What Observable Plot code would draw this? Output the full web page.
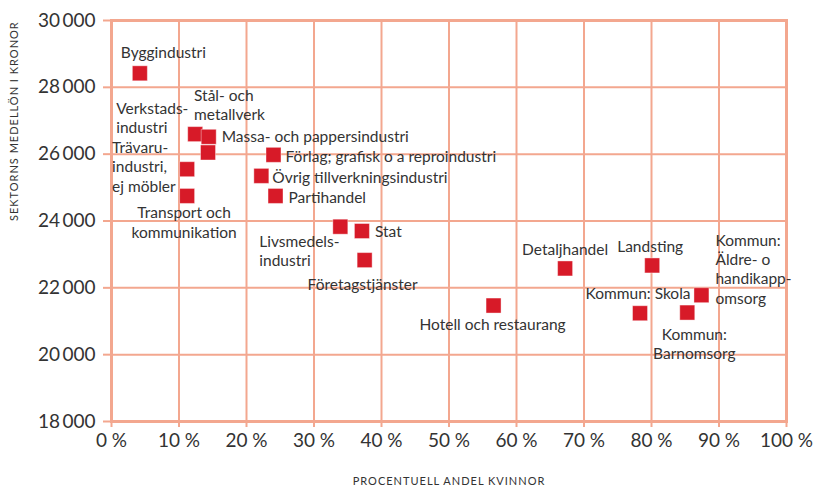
<!DOCTYPE html>
<html><head><meta charset="utf-8">
<script src="https://cdn.jsdelivr.net/npm/d3@7"></script>
<script src="https://cdn.jsdelivr.net/npm/@observablehq/plot@0.6"></script>
<style>body{margin:0;background:#fff}svg{display:block}</style>
</head><body><div id="chart"></div>
<script>
// ---- data ----
const sectors = ["Byggindustri","Verkstadsindustri","Stål- och metallverk","Massa- och pappersindustri",
  "Trävaruindustri, ej möbler","Transport och kommunikation","Förlag; grafisk o a reproindustri",
  "Övrig tillverkningsindustri","Partihandel","Livsmedelsindustri","Stat","Företagstjänster",
  "Hotell och restaurang","Detaljhandel","Landsting","Kommun: Skola","Kommun: Barnomsorg",
  "Kommun: Äldre- o handikappomsorg"];
const labels = ["Byggindustri","Verkstads-\nindustri","Stål- och\nmetallverk","Massa- och pappersindustri",
  "Trävaru-\nindustri,\nej möbler","Transport och\nkommunikation","Förlag; grafisk o a reproindustri",
  "Övrig tillverkningsindustri","Partihandel","Livsmedels-\nindustri","Stat","Företagstjänster",
  "Hotell och restaurang","Detaljhandel","Landsting","Kommun: Skola","Kommun:\nBarnomsorg",
  "Kommun:\nÄldre- o\nhandikapp-\nomsorg"];
const womenShare = [4.2, 12.4, 14.3, 14.4, 11.2, 11.2, 24.0, 22.2, 24.3, 33.9, 37.1, 37.5, 56.6, 67.2, 80.1, 78.3, 85.3, 87.4];
const avgSalary  = [28420, 26600, 26050, 26520, 25550, 24750, 25980, 25350, 24750, 23830, 23700, 22830, 21470, 22580, 22670, 21240, 21260, 21780];
const xTicks = [0,10,20,30,40,50,60,70,80,90,100];
const yTicks = [18000,20000,22000,24000,26000,28000,30000];
const xTitle = "PROCENTUELL ANDEL KVINNOR";
const yTitle = "SEKTORNS MEDELLÖN I KRONOR";

const rows = sectors.map((s, i) => ({sector: s, label: labels[i], x: womenShare[i], y: avgSalary[i]}));

// ---- label placement (style) ----
const place = {
  "Byggindustri": ["start", -19, -21],
  "Verkstadsindustri": ["start", -79, -17],
  "Stål- och metallverk": ["start", -14, -48],
  "Massa- och pappersindustri": ["start", 13, -1],
  "Trävaruindustri, ej möbler": ["start", -75, -3],
  "Transport och kommunikation": ["middle", -3, 26],
  "Förlag; grafisk o a reproindustri": ["start", 12, 1],
  "Övrig tillverkningsindustri": ["start", 11, 1],
  "Partihandel": ["start", 13, 1],
  "Livsmedelsindustri": ["start", -81, 24],
  "Stat": ["start", 13, 0],
  "Företagstjänster": ["middle", -2, 24],
  "Hotell och restaurang": ["middle", -1, 18],
  "Detaljhandel": ["middle", 0, -20],
  "Landsting": ["middle", -2, -20],
  "Kommun: Skola": ["middle", -2, -20],
  "Kommun: Barnomsorg": ["middle", 7, 31],
  "Kommun: Äldre- o handikappomsorg": ["start", 14, -26.5]
};

const gridColor = "#f3a78f";
const textColor = "#333333";
const thin = "\u2009";
const fmtY = d => d3.format(",")(d).replace(",", thin);
const fmtX = d => d + " %";

const labelMarks = rows.map(r => {
  const [anchor, dx, dy] = place[r.sector];
  return Plot.text([r], {x: "x", y: "y", text: "label", textAnchor: anchor, dx, dy,
    lineAnchor: "middle", lineHeight: 1.245, fontSize: 15.5, fill: textColor});
});

const chart = Plot.plot({
  width: 815, height: 486,
  marginLeft: 111, marginRight: 29, marginTop: 20, marginBottom: 65,
  style: {fontFamily: "Lato, sans-serif", background: "#fff", color: textColor},
  x: {domain: [0, 100]},
  y: {domain: [18000, 30000]},
  marks: [
    Plot.gridX(xTicks, {stroke: gridColor, strokeOpacity: 1, strokeWidth: 2}),
    Plot.gridY(yTicks, {stroke: gridColor, strokeOpacity: 1, strokeWidth: 2}),
    Plot.frame({stroke: gridColor, strokeWidth: 3}),
    Plot.axisX({ticks: xTicks, tickFormat: fmtX, tickSize: 6, tickPadding: 6, fontSize: 19,
      stroke: gridColor, strokeWidth: 2, strokeOpacity: 1, label: null, fill: textColor}),
    Plot.axisY({ticks: yTicks, tickFormat: fmtY, tickSize: 8, tickPadding: 8, fontSize: 19,
      stroke: gridColor, strokeWidth: 2, strokeOpacity: 1, label: null, fill: textColor}),
    Plot.dot(rows, {x: "x", y: "y", symbol: "square", r: 8.46, fill: "#d71a28", stroke: "#fff", strokeWidth: 0.4}),
    ...labelMarks,
    Plot.text([xTitle], {frameAnchor: "bottom", dy: 60, text: d => d, fontSize: 11, fill: textColor, lineAnchor: "middle"}),
    Plot.text([yTitle], {frameAnchor: "left", dx: -97, text: d => d, rotate: -90, fontSize: 11, fill: textColor, lineAnchor: "middle"})
  ]
});
d3.select(chart).selectAll("text").filter(function(){ return this.textContent === xTitle || this.textContent === yTitle; })
  .attr("letter-spacing", "1px");
document.getElementById("chart").appendChild(chart);
</script>
</body></html>
